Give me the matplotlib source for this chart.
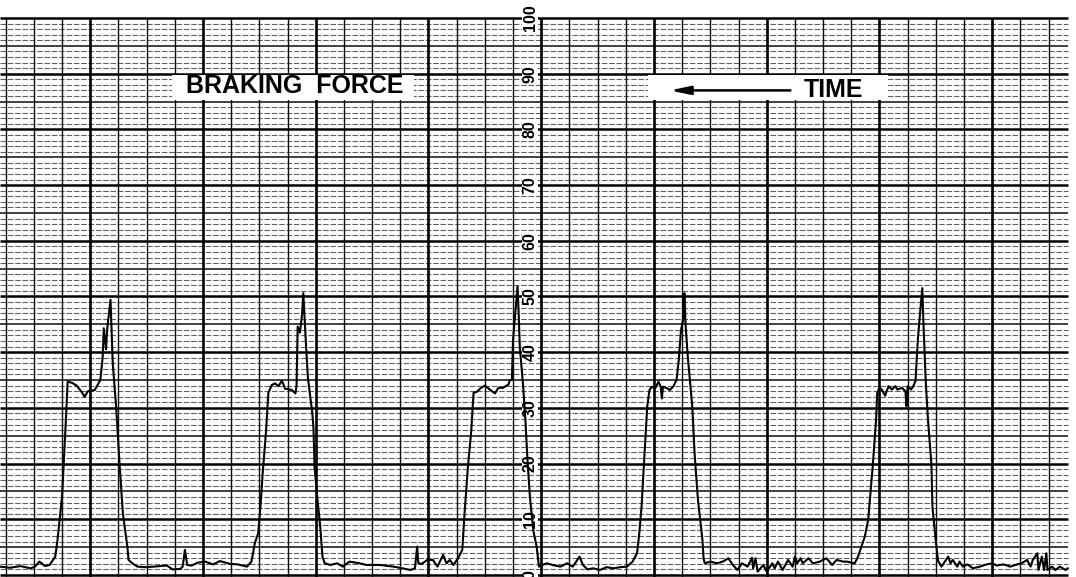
import matplotlib
matplotlib.use("Agg")
import matplotlib.pyplot as plt
import numpy as np
from matplotlib.patches import Rectangle

# ---------------- data ----------------
# time in chart units (one heavy vertical division = 10 units), force in % of full scale
time_units = [
    0.0, 0.9, 1.8, 2.7, 3.1, 3.5, 4.0, 4.4, 4.9, 5.1, 5.5, 5.8, 6.0, 6.4, 6.8, 7.3, 7.5, 7.8,
    8.4, 8.9, 9.1, 9.2, 9.4, 9.5, 9.8, 10.0, 10.3, 10.6, 10.9, 11.3, 11.4, 11.8, 12.2, 13.0,
    14.2, 14.8, 15.3, 16.0, 16.2, 16.4, 16.6, 17.0, 17.5, 18.2, 18.9, 19.5, 20.4, 21.1, 21.9,
    22.3, 22.6, 22.9, 23.1, 23.3, 23.6, 23.8, 24.1, 24.4, 24.7, 25.0, 25.3, 25.5, 25.9, 26.2,
    26.3, 26.4, 26.6, 26.8, 26.9, 27.1, 27.3, 27.7, 27.8, 27.9, 28.1, 28.4, 28.6, 28.8, 29.3,
    29.9, 30.4, 31.0, 31.9, 32.5, 33.7, 34.9, 35.7, 36.4, 36.8, 37.0, 37.1, 37.4, 37.9, 38.4,
    38.8, 39.3, 39.6, 39.9, 40.2, 40.6, 41.0, 41.2, 41.5, 41.8, 42.0, 42.3, 42.6, 43.0, 43.5,
    43.9, 44.2, 44.6, 45.1, 45.2, 45.4, 45.5, 45.7, 45.9, 46.0, 46.1, 46.4, 46.6, 46.8, 47.0,
    47.3, 47.6, 47.8, 48.1, 48.5, 49.0, 49.7, 50.3, 50.8, 51.2, 51.4, 51.7, 52.1, 52.6, 53.2,
    53.8, 54.4, 55.0, 55.6, 56.1, 56.5, 56.7, 56.9, 57.2, 57.4, 57.6, 57.8, 58.1, 58.4, 58.6,
    58.7, 58.8, 59.2, 59.4, 59.7, 60.0, 60.2, 60.4, 60.6, 60.7, 60.8, 61.0, 61.4, 61.6, 61.9,
    62.3, 62.4, 62.5, 63.0, 63.6, 64.1, 64.6, 65.0, 65.4, 65.8, 66.3, 66.7, 66.8, 67.0, 67.2,
    67.7, 68.0, 68.5, 68.7, 69.0, 69.4, 69.9, 70.3, 70.5, 70.7, 71.0, 71.2, 71.7, 72.1, 72.7,
    73.3, 73.8, 74.2, 74.8, 75.1, 75.8, 76.1, 76.4, 76.7, 77.0, 77.3, 77.4, 77.7, 77.8, 78.0,
    78.2, 78.5, 78.8, 79.1, 79.4, 79.6, 80.0, 80.3, 80.4, 80.5, 80.8, 81.0, 81.2, 81.4, 81.6,
    81.8, 81.9, 82.1, 82.3, 82.6, 82.7, 83.0, 83.2, 83.5, 83.8, 84.1, 84.3, 84.5, 84.9, 85.1,
    85.4, 85.8, 86.3, 86.9, 87.5, 88.0, 88.4, 89.0, 89.6, 90.2, 90.6, 91.1, 91.4, 91.6, 92.0,
    92.1, 92.4, 92.6, 92.8, 92.9, 93.3, 93.6, 94.0, 94.5, 94.7,
]
braking_force = [
    1.5, 1.3, 1.6, 1.2, 1.5, 2.4, 1.6, 1.8, 3.3, 6.3, 14.0, 26.0, 34.7, 34.5, 34.0, 32.7, 32.0, 33.0,
    33.2, 35.0, 39.0, 44.3, 40.5, 44.0, 49.4, 38.0, 30.2, 20.0, 11.0, 5.0, 2.7, 2.0, 1.5, 1.4,
    1.6, 1.7, 1.0, 1.1, 1.5, 4.5, 1.8, 1.7, 2.2, 2.4, 1.9, 2.5, 2.0, 1.9, 1.5,
    2.4, 5.7, 7.5, 12.3, 18.3, 26.0, 32.7, 34.1, 34.4, 33.9, 34.9, 33.4, 33.4, 33.2, 32.6,
    34.0, 44.6, 43.5, 47.0, 50.6, 42.8, 35.6, 29.0, 26.5, 19.4, 14.7, 8.7, 3.3, 2.1, 1.8,
    2.1, 1.5, 2.4, 2.1, 1.8, 1.8, 1.5, 1.2, 0.9, 1.2, 5.1, 2.1, 2.0, 2.7, 2.7,
    1.5, 3.6, 2.1, 2.7, 1.8, 2.9, 4.5, 11.0, 19.4, 26.0, 32.7, 32.9, 33.5, 34.0, 33.2,
    32.6, 33.6, 33.6, 34.2, 35.0, 35.0, 42.2, 47.0, 51.8, 47.0, 41.0, 33.8, 27.8, 20.0, 14.0,
    8.0, 5.0, 1.5, 1.8, 2.1, 1.8, 1.5, 2.1, 1.5, 2.7, 3.3, 1.8, 1.0, 1.2, 0.9,
    1.4, 1.2, 1.4, 1.5, 2.4, 3.9, 7.5, 12.3, 23.0, 30.2, 33.2, 33.8, 33.5, 34.7, 33.8,
    31.7, 33.8, 33.5, 33.2, 33.8, 35.0, 38.6, 44.0, 46.0, 50.6, 45.0, 39.2, 30.2, 21.9, 13.5,
    6.3, 3.0, 2.1, 2.4, 2.1, 2.4, 3.0, 1.8, 0.9, 2.1, 1.5, 3.1, 1.2, 3.0, 0.6,
    1.8, 0.6, 2.1, 1.2, 2.4, 0.9, 2.7, 1.5, 3.3, 2.1, 3.0, 2.1, 3.0, 2.1, 2.4,
    3.0, 1.8, 2.7, 2.4, 2.4, 2.1, 3.3, 5.1, 6.9, 9.9, 17.1, 19.5, 27.9, 32.7, 33.6,
    33.3, 32.2, 33.9, 33.3, 33.9, 33.3, 33.6, 33.0, 30.3, 33.9, 33.3, 33.9, 34.9, 42.2, 47.0,
    51.5, 45.2, 34.9, 27.9, 20.1, 12.1, 6.1, 2.5, 1.5, 2.4, 3.3, 2.1, 2.7, 1.5, 2.4,
    1.5, 1.9, 1.2, 1.5, 1.9, 2.1, 1.7, 1.9, 1.5, 1.9, 2.1, 2.7, 1.5, 2.7, 3.9,
    0.9, 3.3, 0.9, 3.9, 0.9, 1.5, 0.9, 1.5, 0.9, 1.2,
]
force_ticks = [0, 10, 20, 30, 40, 50, 60, 70, 80, 90, 100]
force_tick_labels = ["0", "10", "20", "30", "40", "50", "60", "70", "80", "90", "100"]
title_text = "BRAKING  FORCE"
time_text = "TIME"

# ---------------- figure ----------------
fig = plt.figure(figsize=(10.76, 5.77), dpi=100)
ax = fig.add_axes([0, 0, 1, 1])
x_lo, x_hi = 0.0, 95.43
y_lo, y_hi = -0.36, 103.23
ax.set_xlim(x_lo, x_hi)
ax.set_ylim(y_lo, y_hi)
ax.axis("off")

grid_x_end = 94.7
grid_top = force_ticks[-1]

# horizontal rulings
fine = [v for v in np.arange(0, grid_top + 1, 1) if v % 5 != 0]
half = [v for v in np.arange(0, grid_top + 1, 5) if v % 10 != 0]
ax.hlines(fine, x_lo, grid_x_end, colors="0.38", lw=0.8, linestyles=(0, (5, 1.6)), zorder=1)
ax.hlines(half, x_lo, grid_x_end, colors="0.05", lw=1.1, zorder=2)
ax.hlines(force_ticks, x_lo, grid_x_end, colors="black", lw=1.8, zorder=2)

# vertical rulings
x_minor = [v for v in np.arange(0.5, grid_x_end, 2.5) if (v - 8) % 10 != 0]
x_major = list(np.arange(8, grid_x_end, 10))
ax.vlines(x_minor, y_lo, grid_top, colors="0.05", lw=1.0, zorder=2)
ax.vlines(x_major, y_lo, grid_top, colors="black", lw=1.9, zorder=2)

# scale numbers along the central heavy line
for v, lab in zip(force_ticks, force_tick_labels):
    ax.text(47.7, v, lab, rotation=90, ha="right", va="center", fontsize=11.5,
            fontweight="bold", family=["Liberation Sans", "DejaVu Sans"],
            color="black", zorder=4,
            bbox=dict(facecolor="white", edgecolor="none", pad=0.3))

# label boxes
ax.add_patch(Rectangle((15.25, 85.25), 21.5, 4.55, facecolor="white", edgecolor="none", zorder=3))
ax.text(26.16, 87.8, title_text, ha="center", va="center", fontsize=18, fontweight="bold",
        family=["Liberation Sans", "DejaVu Sans"], zorder=4)

ax.add_patch(Rectangle((57.5, 85.25), 21.3, 4.55, facecolor="white", edgecolor="none", zorder=3))
ax.annotate("", xy=(59.4, 87.0), xytext=(70.1, 87.0), zorder=4,
            arrowprops=dict(arrowstyle="-|>,head_length=1.2,head_width=0.25", lw=1.8,
                            color="black", shrinkA=0, shrinkB=0))
ax.text(73.9, 87.1, time_text, ha="center", va="center", fontsize=18, fontweight="bold",
        family=["Liberation Sans", "DejaVu Sans"], zorder=4)

# recorder trace
ax.plot(time_units, braking_force, color="black", lw=1.5, zorder=5, solid_joinstyle="round")

fig.savefig("out.png", dpi=100)
